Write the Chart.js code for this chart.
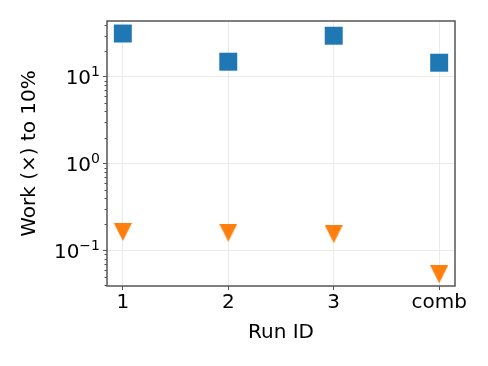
<!DOCTYPE html>
<html>
<head>
<meta charset="utf-8">
<script src="https://cdn.jsdelivr.net/npm/chart.js@4/dist/chart.umd.min.js"></script>
<style>
  html, body { margin: 0; padding: 0; background: #fff; }
  #wrap { width: 488px; height: 366px; }
</style>
</head>
<body>
<div id="wrap"><canvas id="chart" width="488" height="366"></canvas></div>
<script>
// data
const runIds = ['1', '2', '3', 'comb'];
const workSquares = [31.7, 15.0, 29.9, 14.6];
const workTriangles = [0.163, 0.160, 0.154, 0.053];
const yMajorTicks = [0.1, 1, 10];
const yTickExponents = ['\u22121', '0', '1'];

const FONT = "'DejaVu Sans', sans-serif";
const SPINE = '#555555';

// matplotlib-like 'v' marker
function downTriangle(size, color) {
    const c = document.createElement('canvas');
    c.width = size; c.height = size;
    const ctx = c.getContext('2d');
    ctx.fillStyle = color;
    ctx.beginPath();
    ctx.moveTo(0, 0);
    ctx.lineTo(size, 0);
    ctx.lineTo(size / 2, size);
    ctx.closePath();
    ctx.fill();
    return c;
}

// spines, minor log ticks and 10^n tick labels
const frame = {
    id: 'frame',
    afterDraw(chart) {
        const { ctx, chartArea: a } = chart;
        const y = chart.scales.y;
        ctx.save();
        ctx.strokeStyle = SPINE;
        ctx.lineWidth = 1;
        for (let d = -3; d <= 2; d++) {
            for (let m = 2; m <= 9; m++) {
                const v = m * Math.pow(10, d);
                if (v < y.min || v > y.max) continue;
                const py = Math.round(y.getPixelForValue(v)) + 0.5;
                ctx.beginPath();
                ctx.moveTo(a.left - 2.5, py);
                ctx.lineTo(a.left, py);
                ctx.stroke();
            }
        }
        ctx.lineWidth = 1.5;
        ctx.strokeRect(a.left, a.top, a.right - a.left, a.bottom - a.top);

        ctx.fillStyle = '#000';
        ctx.textBaseline = 'alphabetic';
        const right = a.left - 7;
        yMajorTicks.forEach((v, i) => {
            const py = y.getPixelForValue(v);
            ctx.font = '14px ' + FONT;
            const ew = ctx.measureText(yTickExponents[i]).width;
            ctx.textAlign = 'left';
            ctx.fillText(yTickExponents[i], right - ew, py - 0.5);
            ctx.font = '20px ' + FONT;
            ctx.textAlign = 'right';
            ctx.fillText('10', right - ew, py + 7.5);
        });
        ctx.restore();
    }
};

new Chart(document.getElementById('chart'), {
    type: 'scatter',
    data: {
        datasets: [
            {
                data: workSquares.map((v, i) => ({ x: i, y: v })),
                pointStyle: 'rect',
                pointRadius: 12.7,
                pointHoverRadius: 12.7,
                backgroundColor: '#1f77b4',
                borderWidth: 0
            },
            {
                data: workTriangles.map((v, i) => ({ x: i, y: v })),
                pointStyle: downTriangle(18, '#ff7f0e'),
                pointRadius: 9,
                backgroundColor: '#ff7f0e',
                borderWidth: 0
            }
        ]
    },
    options: {
        responsive: false,
        animation: false,
        events: [],
        layout: { padding: { top: 21, right: 33, left: 0, bottom: 0 } },
        plugins: { legend: { display: false }, tooltip: { enabled: false } },
        scales: {
            x: {
                type: 'linear',
                min: -0.15,
                max: 3.15,
                afterBuildTicks: s => { s.ticks = runIds.map((_, i) => ({ value: i })); },
                afterFit: s => { s.height = 80; },
                ticks: {
                    callback: v => runIds[v],
                    color: '#000',
                    padding: 1,
                    maxRotation: 0,
                    font: { family: FONT, size: 20 }
                },
                grid: { color: '#ebebeb', tickColor: SPINE, tickLength: 4 },
                border: { display: false },
                title: {
                    display: true,
                    text: 'Run ID',
                    color: '#000',
                    font: { family: FONT, size: 20 },
                    padding: { top: 0, bottom: 21.5 }
                }
            },
            y: {
                type: 'logarithmic',
                min: 0.0389,
                max: 44.2,
                afterBuildTicks: s => { s.ticks = yMajorTicks.map(v => ({ value: v })); },
                afterFit: s => { s.width = 107; },
                ticks: { display: false },
                grid: { color: '#ebebeb', tickColor: SPINE, tickLength: 4 },
                border: { display: false },
                title: {
                    display: true,
                    text: 'Work (\u00D7) to 10%',
                    color: '#000',
                    font: { family: FONT, size: 20 },
                    padding: { top: 18, bottom: 0 }
                }
            }
        }
    },
    plugins: [frame]
});
</script>
</body>
</html>
